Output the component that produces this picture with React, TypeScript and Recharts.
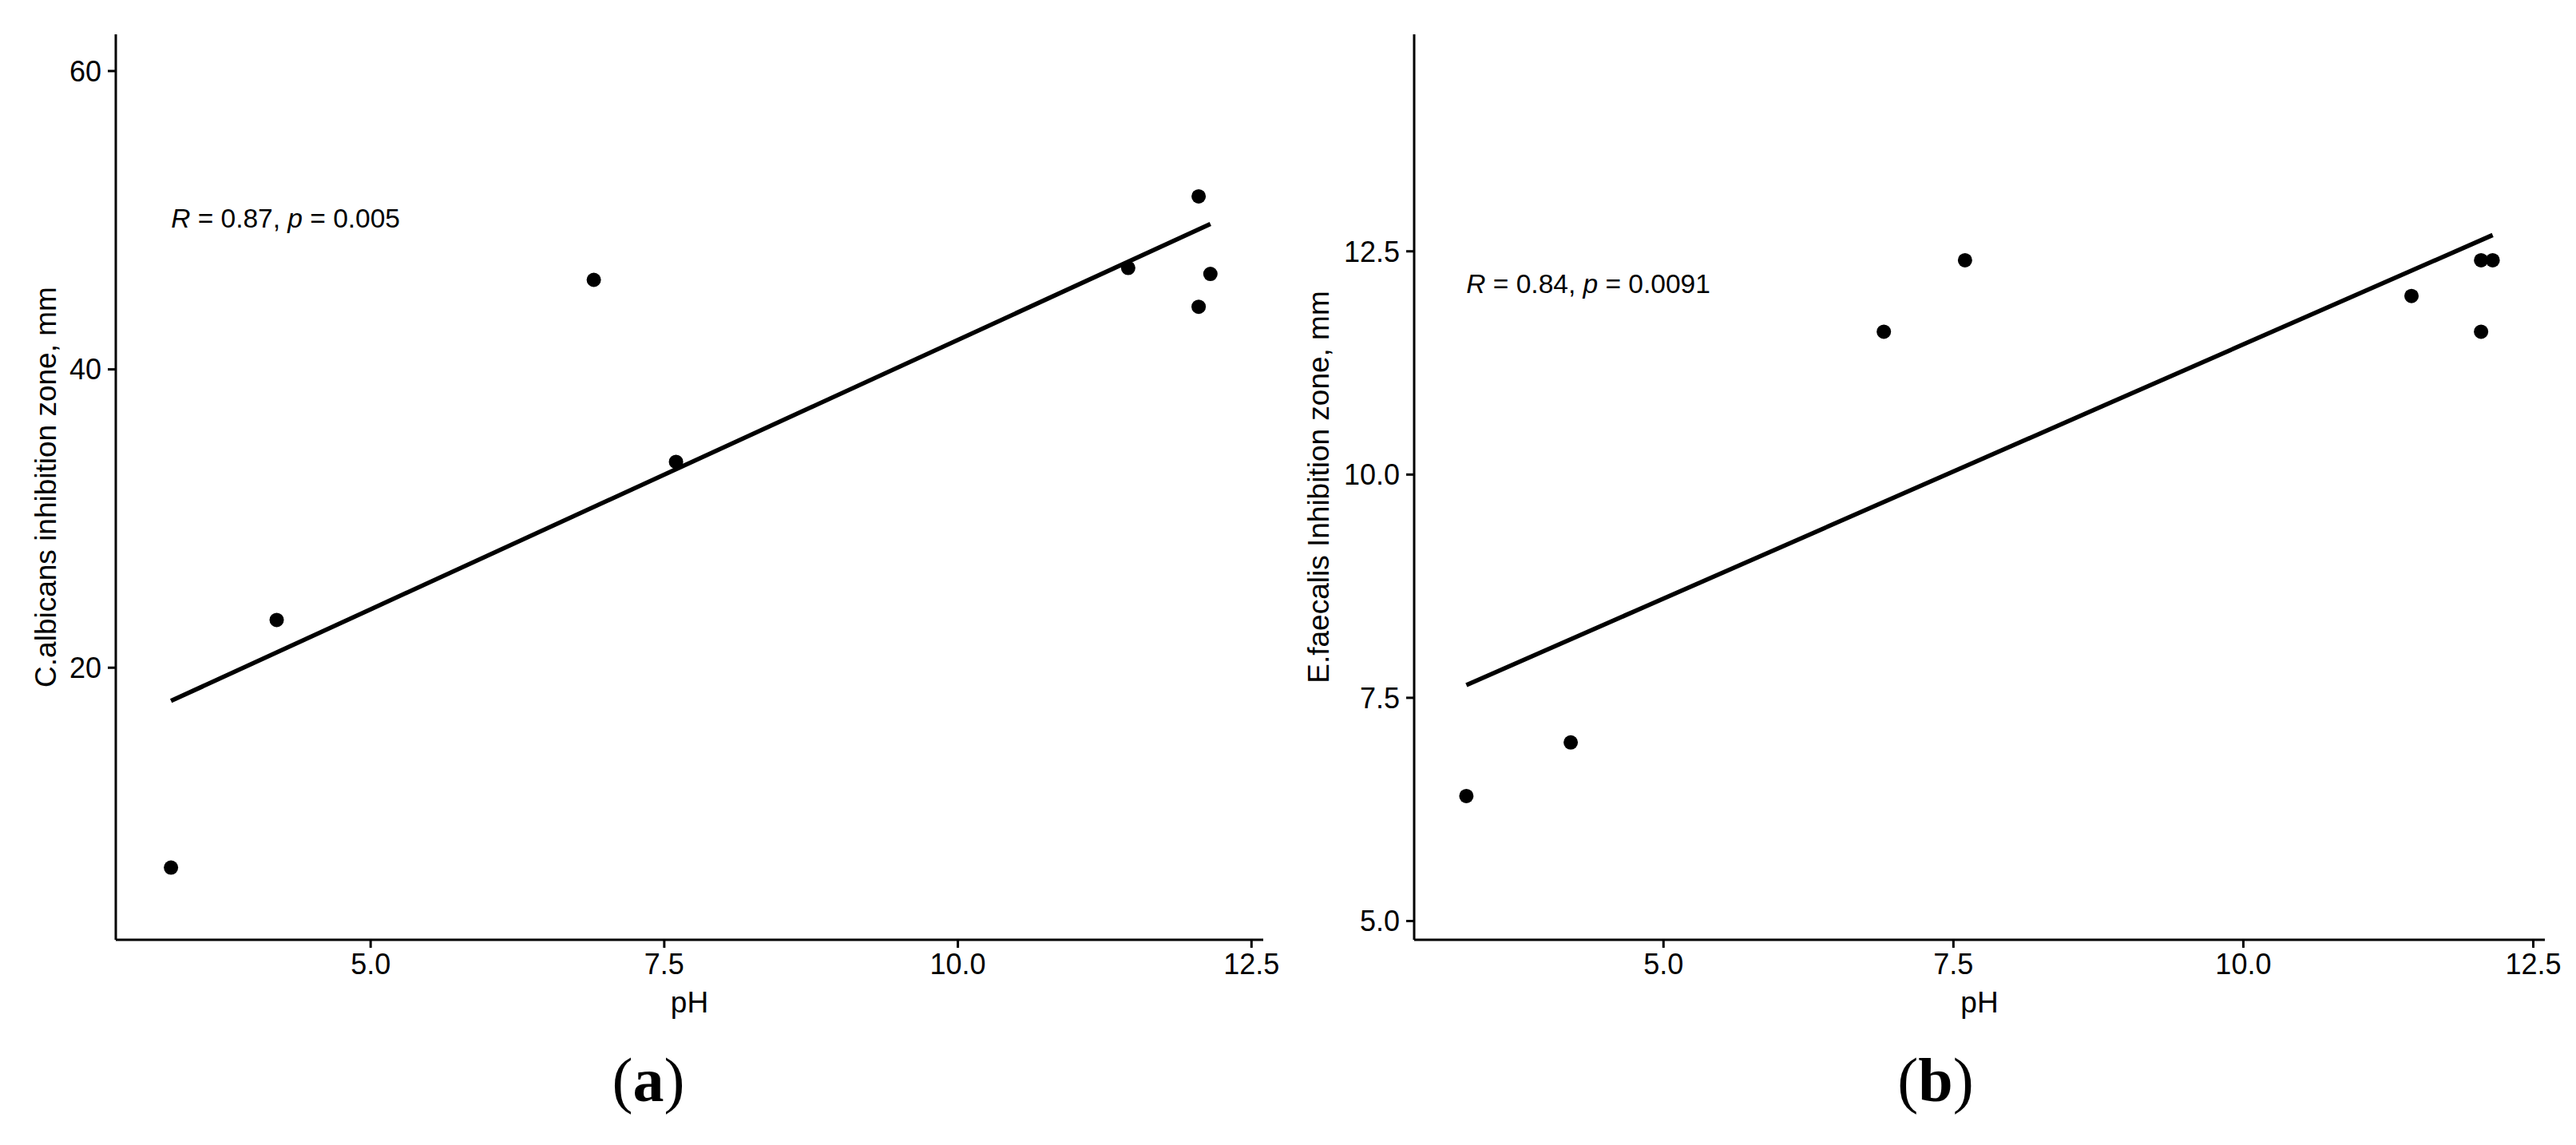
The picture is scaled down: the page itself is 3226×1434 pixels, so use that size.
import React from 'react';
import { ScatterChart, Scatter, XAxis, YAxis } from 'recharts';

// pH of each tested material (same samples in both panels)
const phValues = [3.3, 4.2, 6.9, 7.6, 11.45, 12.05, 12.05, 12.15];
// inhibition zones, mm
const albicansZone = [6.6, 23.2, 46.0, 33.8, 46.8, 51.6, 44.2, 46.4];
const faecalisZone = [6.4, 7.0, 11.6, 12.4, 12.0, 12.4, 11.6, 12.4];

const phTicks = [5, 7.5, 10, 12.5];
const albicansTicks = [20, 40, 60];
const faecalisTicks = [5, 7.5, 10, 12.5];

const albicansNote = { r: '0.87', p: '0.005', y: 50.15 };
const faecalisNote = { r: '0.84', p: '0.0091', y: 12.14 };

const FONT = '"Liberation Sans", Arial, Helvetica, sans-serif';
const SERIF = '"Liberation Serif", "Times New Roman", serif';

const toPoints = (xs: number[], ys: number[]) => xs.map((x, i) => ({ x, y: ys[i] }));

// ordinary least squares, drawn between min and max pH like geom_smooth(method = "lm")
function fitLine(xs: number[], ys: number[]) {
  const n = xs.length;
  const mx = xs.reduce((s, v) => s + v, 0) / n;
  const my = ys.reduce((s, v) => s + v, 0) / n;
  let sxy = 0;
  let sxx = 0;
  xs.forEach((x, i) => {
    sxy += (x - mx) * (ys[i] - my);
    sxx += (x - mx) * (x - mx);
  });
  const b = sxy / sxx;
  const a = my - b * mx;
  const lo = Math.min(...xs);
  const hi = Math.max(...xs);
  return [
    { x: lo, y: a + b * lo },
    { x: hi, y: a + b * hi },
  ];
}

interface PanelProps {
  left: number;
  marginLeft: number;
  marginRight: number;
  xs: number[];
  ys: number[];
  xDomain: [number, number];
  yDomain: [number, number];
  yTicks: number[];
  yFmt: (v: number) => string;
  yTitle: string;
  titleGap: number;
  note: { r: string; p: string; y: number };
  tag: string;
  tagX: number;
}

function Panel(props: PanelProps) {
  const { left, marginLeft, marginRight, xs, ys, xDomain, yDomain, yTicks, yFmt, yTitle, titleGap, note, tag, tagX } = props;
  const points = toPoints(xs, ys);
  const fit = fitLine(xs, ys);
  const notePoint = [{ x: Math.min(...xs), y: note.y }];

  const yLabel = (p: any) => {
    const vb = p.viewBox;
    const x = vb.x + vb.width - titleGap;
    const y = vb.y + vb.height / 2;
    return (
      <text x={x} y={y} transform={`rotate(-90, ${x}, ${y})`} textAnchor="middle" fontSize={37} fontFamily={FONT} fill="#000">
        {yTitle}
      </text>
    );
  };

  const xLabel = (p: any) => {
    const vb = p.viewBox;
    return (
      <g>
        <text x={vb.x + vb.width / 2} y={vb.y + 91} textAnchor="middle" fontSize={37} fontFamily={FONT} fill="#000">
          pH
        </text>
        <text x={tagX} y={vb.y + 202} textAnchor="middle" fontSize={78} fontFamily={SERIF} fill="#000">
          (<tspan fontWeight="bold">{tag}</tspan>)
        </text>
      </g>
    );
  };

  const noteShape = (p: any) => (
    <text x={p.cx} y={p.cy} dy="0.36em" fontSize={33.5} fontFamily={FONT} fill="#000">
      <tspan fontStyle="italic">R</tspan>
      {` = ${note.r}, `}
      <tspan fontStyle="italic">p</tspan>
      {` = ${note.p}`}
    </text>
  );

  const axisStyle = { stroke: '#000', strokeWidth: 3 };

  return (
    <div style={{ position: 'absolute', left, top: 0 }}>
      <ScatterChart width={1613} height={1434} margin={{ top: 43, right: marginRight, bottom: 157, left: marginLeft }}>
        <XAxis
          type="number"
          dataKey="x"
          domain={xDomain}
          ticks={phTicks}
          allowDataOverflow
          tickFormatter={(v: number) => v.toFixed(1)}
          tick={{ fill: '#000', fontSize: 36, fontFamily: FONT }}
          axisLine={axisStyle}
          tickLine={axisStyle}
          tickSize={10}
          tickMargin={7}
          height={100}
          label={{ content: xLabel }}
        />
        <YAxis
          type="number"
          dataKey="y"
          domain={yDomain}
          ticks={yTicks}
          allowDataOverflow
          tickFormatter={yFmt}
          tick={{ fill: '#000', fontSize: 36, fontFamily: FONT }}
          axisLine={axisStyle}
          tickLine={axisStyle}
          tickSize={10}
          tickMargin={8}
          width={120}
          label={{ content: yLabel }}
        />
        <Scatter data={points} fill="#000" isAnimationActive={false} shape={(p: any) => <circle cx={p.cx} cy={p.cy} r={9} fill="#000" />} />
        <Scatter data={fit} isAnimationActive={false} line={{ stroke: '#000', strokeWidth: 5.5 }} shape={() => <g />} />
        <Scatter data={notePoint} isAnimationActive={false} shape={noteShape} />
      </ScatterChart>
    </div>
  );
}

export default function App() {
  return (
    <div style={{ position: 'absolute', left: 0, top: 0, width: 3226, height: 1434, background: '#fff' }}>
      <Panel
        left={0}
        marginLeft={25}
        marginRight={31}
        xs={phValues}
        ys={albicansZone}
        xDomain={[2.83, 12.6]}
        yDomain={[1.76, 62.46]}
        yTicks={albicansTicks}
        yFmt={(v) => String(v)}
        yTitle="C.albicans inhibition zone, mm"
        titleGap={75}
        note={albicansNote}
        tag="a"
        tagX={812}
      />
      <Panel
        left={1613}
        marginLeft={38}
        marginRight={39}
        xs={phValues}
        ys={faecalisZone}
        xDomain={[2.85, 12.6]}
        yDomain={[4.79, 14.93]}
        yTicks={faecalisTicks}
        yFmt={(v) => v.toFixed(1)}
        yTitle="E.faecalis Inhibition zone, mm"
        titleGap={107}
        note={faecalisNote}
        tag="b"
        tagX={811}
      />
    </div>
  );
}
